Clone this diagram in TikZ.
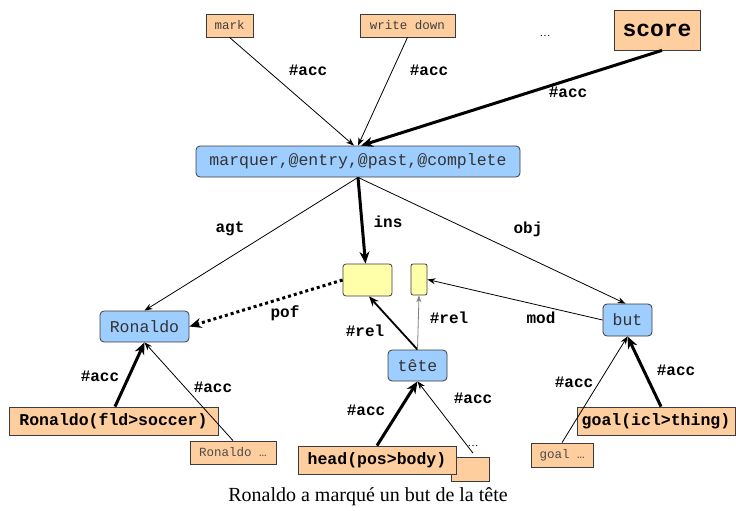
\documentclass[tikz,border=0pt]{standalone}
\usepackage{fontspec}
\setmainfont{Liberation Serif}
\setmonofont{Liberation Mono}
\usetikzlibrary{arrows.meta}
\definecolor{peach}{RGB}{255,206,158}
\definecolor{lblue}{RGB}{158,206,255}
\definecolor{lyellow}{RGB}{255,255,170}
\definecolor{edgegray}{RGB}{60,60,60}
\tikzset{
  box/.style={draw=edgegray, line width=0.8pt, inner sep=0pt, anchor=center},
  obox/.style={box, fill=peach},
  bbox/.style={box, fill=lblue, rounded corners=4pt},
  ybox/.style={box, fill=lyellow, rounded corners=3pt},
  small/.style={font=\ttfamily\fontsize{12.5}{14}\selectfont},
  big/.style={font=\ttfamily\fontsize{16.5}{18}\selectfont},
  bigb/.style={font=\ttfamily\bfseries\fontsize{16.5}{18}\selectfont},
  lbl/.style={font=\ttfamily\bfseries\fontsize{16}{18}\selectfont, inner sep=0pt},
  thin/.style={line width=0.8pt, -{Stealth[length=8pt,width=6pt]}},
  thick/.style={line width=3pt, -{Stealth[length=12pt,width=10pt]}},
}
\begin{document}
\begin{tikzpicture}[x=1pt,y=-1pt]
\useasboundingbox (0,0) rectangle (736,511);
% top boxes
\node[obox, small, text=black!75, minimum width=47pt, minimum height=23pt] (mark) at (229.5,25.5) {mark};
\node[obox, small, text=black!75, minimum width=95pt, minimum height=23pt] (write) at (407.5,25.5) {write down};
\node[inner sep=0pt, font=\fontsize{11}{12}\selectfont] (topdots) at (545,36) {…};
\node[obox, font=\ttfamily\bfseries\fontsize{23}{26}\selectfont, minimum width=86pt, minimum height=40pt] (score) at (657,30) {score};
% main
\node[bbox, big, text=black!80, minimum width=324pt, minimum height=31pt] (marquer) at (358,161.5) {marquer,@entry,@past,@complete};
\node[bbox, big, text=black!80, minimum width=89pt, minimum height=31pt] (ronaldo) at (144.5,326.5) {Ronaldo};
\node[ybox, minimum width=49pt, minimum height=32pt] (y1) at (367.5,280) {};
\node[ybox, rounded corners=2pt, minimum width=16pt, minimum height=31pt] (y2) at (419,279.5) {};
\node[bbox, big, text=black!80, minimum width=59pt, minimum height=31pt] (tete) at (417.5,365.5) {tête};
\node[bbox, big, text=black!80, minimum width=49pt, minimum height=32pt] (but) at (627.5,320) {but};
% bottom boxes
\node[obox, bigb, minimum width=209pt, minimum height=28pt] (rfld) at (113.5,421) {Ronaldo(fld>soccer)};
\node[obox, small, text=black!70, minimum width=86pt, minimum height=23pt] (rdots) at (233,452.5) {Ronaldo …};
\node[obox, minimum width=38pt, minimum height=24pt] (back) at (470,469) {};
\node[obox, bigb, minimum width=158pt, minimum height=28pt] (head) at (377,460) {head(pos>body)};
\node[inner sep=0pt, font=\fontsize{11}{12}\selectfont] (hdots) at (473,446) {…};
\node[obox, bigb, minimum width=158pt, minimum height=28pt] (goal) at (656,421) {goal(icl>thing)};
\node[obox, small, text=black!70, minimum width=62pt, minimum height=24pt] (gdots) at (562,455) {goal …};
% connectors
\draw[thin] (mark.south) -- ([xshift=-4pt]marquer.north);
\draw[thin] (write.south) -- (marquer.north);
\draw[thick] ([xshift=5pt]score.south) -- ([xshift=3pt]marquer.north);
\draw[thin] (marquer.south) -- (ronaldo.north);
\draw[thick] (marquer.south) -- ([xshift=-2pt]y1.north);
\draw[thin] (marquer.south) -- ([xshift=-2pt]but.north);
\draw[line width=3pt, dash pattern=on 3pt off 3pt, -{Stealth[length=12pt,width=10pt]}] (y1.west) -- (ronaldo.east);
\draw[thin] (but.west) -- (y2.east);
\draw[line width=1.8pt, -{Stealth[length=10pt,width=8pt]}] (tete.north) -- ([xshift=1.5pt]y1.south);
\draw[thin, draw=gray, -{Stealth[length=7pt,width=5pt]}] (tete.north) -- (y2.south);
\draw[thick] ([xshift=1.5pt]rfld.north) -- (ronaldo.south);
\draw[thin] (rdots.north) -- (ronaldo.south);
\draw[thick] (head.north) -- (tete.south);
\draw[thin] ([yshift=-8pt]hdots.north) -- (tete.south);
\draw[thick] ([xshift=5pt]goal.north) -- (but.south);
\draw[thin] (gdots.north) -- (but.south);
% labels
\node[lbl] (l1) at (308,70) {\#acc};
\node[lbl] (l2) at (429,70) {\#acc};
\node[lbl] (l3) at (568,92) {\#acc};
\node[lbl] (l4) at (230,229) {agt};
\node[lbl] (l5) at (388,222) {ins};
\node[lbl] (l6) at (528,229) {obj};
\node[lbl] (l7) at (285,313) {pof};
\node[lbl] (l8) at (365,331) {\#rel};
\node[lbl] (l9) at (449,318) {\#rel};
\node[lbl] (l10) at (541,318) {mod};
\node[lbl] (l11) at (100,376) {\#acc};
\node[lbl] (l12) at (213,387) {\#acc};
\node[lbl] (l13) at (366,410) {\#acc};
\node[lbl] (l14) at (473,398) {\#acc};
\node[lbl] (l15) at (574,382) {\#acc};
\node[lbl] (l16) at (676,370) {\#acc};
% caption
\node[inner sep=0pt, font=\fontsize{20}{24}\selectfont] (caption) at (368,497) {Ronaldo a marqué un but de la tête};
\end{tikzpicture}
\end{document}
